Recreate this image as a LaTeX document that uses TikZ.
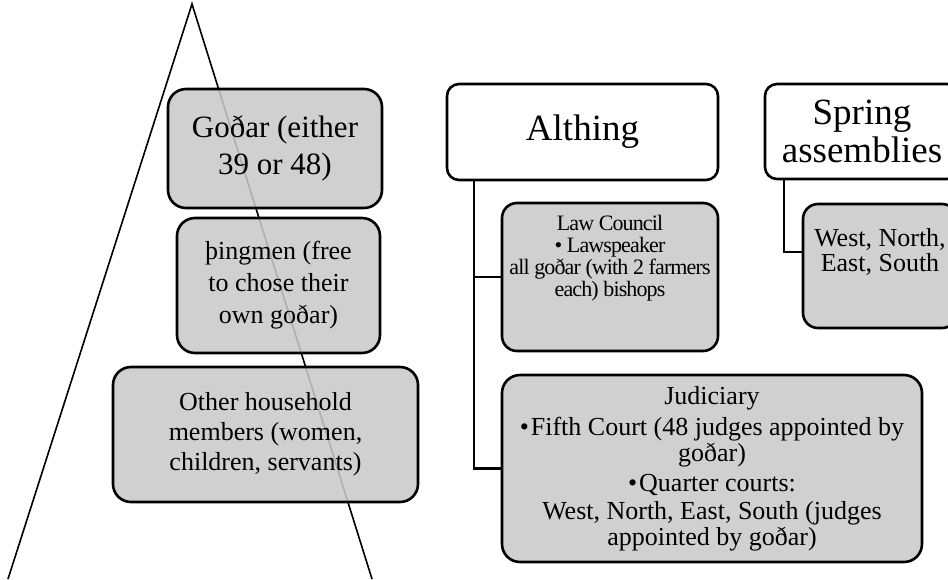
\documentclass[tikz,border=0pt]{standalone}
\usepackage{fontspec}
\setmainfont{Liberation Serif}
\newfontfamily\lawfont[LetterSpace=-4]{Liberation Serif}
\newlength{\du}
\setlength{\du}{1pt}
\definecolor{boxgray}{gray}{0.79}
\tikzset{
  greybox/.style={draw=black, line width=2.6\du, fill=boxgray, fill opacity=0.87, text opacity=1,
    rounded corners=18\du, align=center, inner sep=0pt},
  whitebox/.style={greybox, fill=white, fill opacity=1, rounded corners=12\du},
  plaintext/.style={align=center, inner sep=0pt},
  branch/.style={draw=black, line width=2.2\du},
  pyramid/.style={draw=black, line width=1.6\du, line join=miter},
}

\begin{document}
\begin{tikzpicture}
\pgftransformxscale{1.000000}
\pgftransformyscale{-1.000000}
\useasboundingbox (0.000000\du,0.000000\du) rectangle (948.000000\du,579.000000\du);
\clip (0.000000\du,0.000000\du) rectangle (948.000000\du,579.000000\du);
% pyramid behind the left column
\coordinate (baseleft) at (8.000000\du,579.000000\du);
\coordinate (apex) at (192.000000\du,4.000000\du);
\coordinate (baseright) at (372.000000\du,579.000000\du);
\draw[pyramid] (baseleft)--(apex)--(baseright);
% left column
\node[greybox, minimum width=214\du, minimum height=119\du, font=\fontsize{31}{37}\selectfont]
  (godar) at (275.000000\du,148.500000\du) {Goðar (either\\39 or 48)};
\node[greybox, minimum width=203\du, minimum height=135\du, font=\fontsize{26}{32}\selectfont]
  (thingmen) at (278.500000\du,285.500000\du) {þingmen (free\\to chose their\\own goðar)};
\node[greybox, minimum width=305\du, minimum height=135\du, font=\fontsize{26}{30}\selectfont]
  (household) at (265.500000\du,434.500000\du) {Other household\\members (women,\\children, servants)};
% Althing
\node[whitebox, minimum width=271\du, minimum height=96\du, font=\fontsize{37}{38}\selectfont]
  (althing) at (582.500000\du,132.000000\du) {Althing};
\node[greybox, rounded corners=15\du, minimum width=216\du, minimum height=148\du]
  (lawcouncil) at (610.000000\du,277.000000\du) {};
\node[plaintext, font=\lawfont\fontsize{22}{22}\selectfont]
  (lawtext) at (610.000000\du,258.000000\du) {Law Council\\\textbullet\ Lawspeaker\\all goðar (with 2 farmers\\each) bishops};
\node[greybox, minimum width=420\du, minimum height=187\du, font=\fontsize{26}{26}\selectfont]
  (judiciary) at (712.000000\du,468.500000\du)
  {Judiciary\\[5\du]\textbullet\hspace{2\du}Fifth Court (48 judges appointed by\\goðar)\\[4\du]\textbullet\hspace{2\du}Quarter courts:\\[2\du]West, North, East, South (judges\\appointed by goðar)};
\draw[branch] ([xshift=28\du]althing.south west) |- (lawcouncil.west);
\draw[branch] ([xshift=28\du]althing.south west) |- (judiciary.west);
% Spring assemblies
\node[whitebox, minimum width=194\du, minimum height=95\du, font=\fontsize{37}{38}\selectfont]
  (spring) at (862.000000\du,131.500000\du) {Spring\\assemblies};
\node[greybox, rounded corners=15\du, minimum width=154\du, minimum height=124\du]
  (quarters) at (880.000000\du,266.000000\du) {};
\node[plaintext, font=\fontsize{26}{25}\selectfont]
  (quarterstext) at (880.000000\du,252.000000\du) {West, North,\\East, South};
\draw[branch] ([xshift=20\du]spring.south west) |- (quarters.west |- quarterstext);
\end{tikzpicture}
\end{document}
